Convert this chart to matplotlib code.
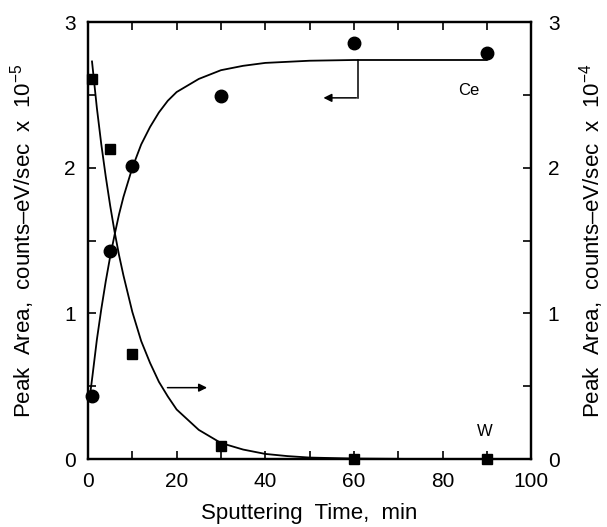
import numpy as np
import matplotlib
matplotlib.use("Agg")
import matplotlib.pyplot as plt
from matplotlib.ticker import MultipleLocator

plt.rcParams['font.family'] = ['Liberation Sans', 'DejaVu Sans']
plt.rcParams['mathtext.fontset'] = 'custom'
plt.rcParams['mathtext.rm'] = 'Liberation Sans'
plt.rcParams['mathtext.it'] = 'Liberation Sans'

# measured points
time_min = [1, 5, 10, 30, 60, 90]
ce_area = [0.43, 1.43, 2.01, 2.49, 2.86, 2.79]   # left axis, x 10^-5
w_area = [2.61, 2.13, 0.72, 0.09, 0.0, 0.0]      # right axis, x 10^-4

# fitted curves
ce_fit_t = [0.5, 1, 2, 3, 4, 5, 6, 7, 8, 10, 12, 14, 16, 18, 20, 25, 30, 35, 40, 50, 60, 75, 90]
ce_fit_y = [0.45, 0.57, 0.82, 1.03, 1.22, 1.39, 1.54, 1.68, 1.80, 2.00, 2.16, 2.28, 2.38,
            2.46, 2.52, 2.61, 2.67, 2.70, 2.72, 2.735, 2.74, 2.74, 2.74]
w_fit_t = [0.9, 2, 3, 4, 5, 6, 7, 8, 10, 12, 14, 16, 18, 20, 25, 30, 35, 40, 45, 50, 60, 75, 90]
w_fit_y = [2.73, 2.41, 2.16, 1.94, 1.74, 1.56, 1.40, 1.26, 1.01, 0.81, 0.66, 0.53, 0.43,
           0.34, 0.20, 0.11, 0.065, 0.035, 0.02, 0.01, 0.003, 0.0, 0.0]

fig = plt.figure(figsize=(6.07, 5.27), dpi=100)
ax = fig.add_axes([0.145, 0.129, 0.73, 0.829])
ax2 = ax.twinx()

ax.plot(ce_fit_t, ce_fit_y, color='k', lw=1.3)
ax.plot(time_min, ce_area, 'o', color='k', ms=9, clip_on=False, zorder=5)
ax2.plot(w_fit_t, w_fit_y, color='k', lw=1.3)
ax2.plot(time_min, w_area, 's', color='k', ms=6.5, clip_on=False, zorder=5)

for a in (ax, ax2):
    a.set_xlim(0, 100)
    a.set_ylim(0, 3)
    a.yaxis.set_major_locator(MultipleLocator(1))
    a.yaxis.set_minor_locator(MultipleLocator(0.5))
    for s in a.spines.values():
        s.set_linewidth(1.6)

ax.xaxis.set_major_locator(MultipleLocator(20))
ax.xaxis.set_minor_locator(MultipleLocator(10))
ax.tick_params(axis='both', which='both', direction='in', length=6, width=1.2,
               labelsize=15, top=True)
ax.tick_params(axis='x', pad=9)
ax.tick_params(axis='y', pad=9)
ax2.tick_params(axis='y', which='both', direction='in', length=6, width=1.2,
                labelsize=15, pad=12)

# pointer arrows
ax.plot([61, 61], [2.74, 2.48], color='k', lw=1.1)
ax.annotate('', xy=(52.5, 2.48), xytext=(61.2, 2.48),
            arrowprops=dict(arrowstyle='-|>', color='k', lw=1.1, mutation_scale=12))
ax.annotate('', xy=(27.5, 0.49), xytext=(17.3, 0.49),
            arrowprops=dict(arrowstyle='-|>', color='k', lw=1.1, mutation_scale=12))

ax.text(86, 2.53, 'Ce', fontsize=12, ha='center', va='center')
ax.text(89.5, 0.19, 'W', fontsize=12, ha='center', va='center')

ax.set_xlabel('Sputtering  Time,  min', fontsize=16)
ax.xaxis.set_label_coords(0.5, -0.1)
ax.set_ylabel('Peak  Area,  counts\u2013eV/sec  x  10$^{-5}$', fontsize=16)
ax.yaxis.set_label_coords(-0.115, 0.5)
ax2.set_ylabel('Peak  Area,  counts\u2013eV/sec  x  10$^{-4}$', fontsize=16)
ax2.yaxis.set_label_coords(1.103, 0.5)

plt.savefig('out.png', dpi=100)
